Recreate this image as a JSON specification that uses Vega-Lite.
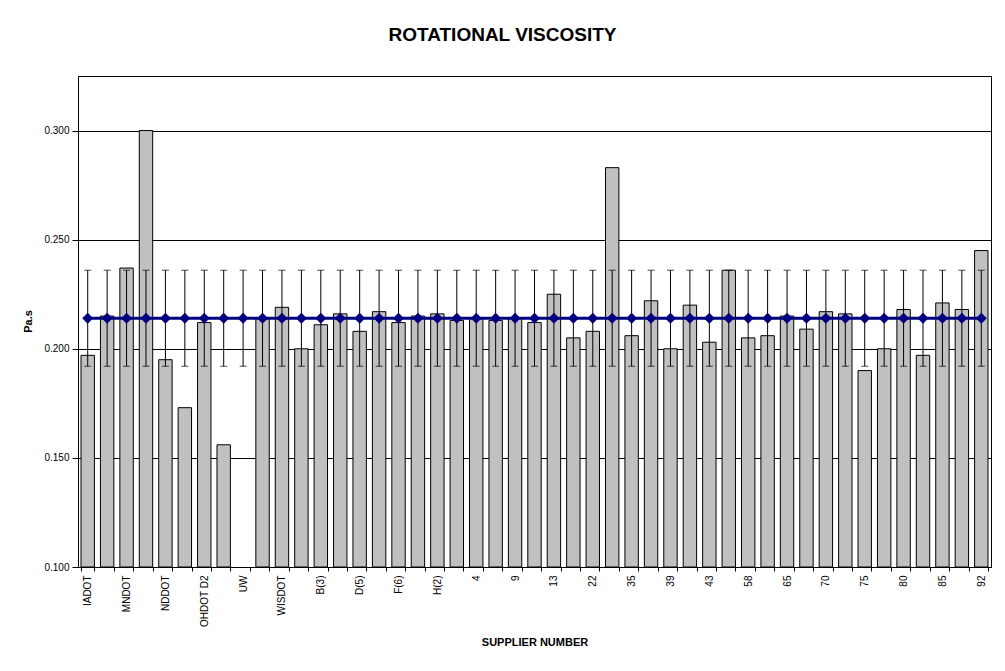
{
  "$schema": "https://vega.github.io/schema/vega-lite/v6.json",
  "width": 913,
  "height": 491,
  "autosize": {"type": "none"},
  "padding": {"left": 78, "top": 76, "right": 14, "bottom": 104},
  "background": "white",
  "title": {
    "text": "ROTATIONAL VISCOSITY",
    "font": "Liberation Sans",
    "fontSize": 19,
    "fontWeight": "bold",
    "color": "black",
    "anchor": "middle",
    "dx": -32,
    "baseline": "middle",
    "offset": 22
  },
  "config": {
    "view": {"stroke": "black", "strokeWidth": 1},
    "font": "Liberation Sans"
  },
  "data": {
    "values": [
      {"supplier": "IADOT", "rv": 0.197, "avg": 0.214, "lo": 0.192, "hi": 0.236},
      {"supplier": "KSDOT", "rv": 0.215, "avg": 0.214, "lo": 0.192, "hi": 0.236},
      {"supplier": "MNDOT", "rv": 0.237, "avg": 0.214, "lo": 0.192, "hi": 0.236},
      {"supplier": "MODOT", "rv": 0.300, "avg": 0.214, "lo": 0.192, "hi": 0.236},
      {"supplier": "NDDOT", "rv": 0.195, "avg": 0.214, "lo": 0.192, "hi": 0.236},
      {"supplier": "OHDOT D1", "rv": 0.173, "avg": 0.214, "lo": 0.192, "hi": 0.236},
      {"supplier": "OHDOT D2", "rv": 0.212, "avg": 0.214, "lo": 0.192, "hi": 0.236},
      {"supplier": "SDDOT", "rv": 0.156, "avg": 0.214, "lo": 0.192, "hi": 0.236},
      {"supplier": "UW", "rv": null, "avg": 0.214, "lo": 0.192, "hi": 0.236},
      {"supplier": "UWM", "rv": 0.214, "avg": 0.214, "lo": 0.192, "hi": 0.236},
      {"supplier": "WISDOT", "rv": 0.219, "avg": 0.214, "lo": 0.192, "hi": 0.236},
      {"supplier": "A(3)", "rv": 0.200, "avg": 0.214, "lo": 0.192, "hi": 0.236},
      {"supplier": "B(3)", "rv": 0.211, "avg": 0.214, "lo": 0.192, "hi": 0.236},
      {"supplier": "C(4)", "rv": 0.216, "avg": 0.214, "lo": 0.192, "hi": 0.236},
      {"supplier": "D(5)", "rv": 0.208, "avg": 0.214, "lo": 0.192, "hi": 0.236},
      {"supplier": "E(5)", "rv": 0.217, "avg": 0.214, "lo": 0.192, "hi": 0.236},
      {"supplier": "F(6)", "rv": 0.212, "avg": 0.214, "lo": 0.192, "hi": 0.236},
      {"supplier": "G(4)", "rv": 0.215, "avg": 0.214, "lo": 0.192, "hi": 0.236},
      {"supplier": "H(2)", "rv": 0.216, "avg": 0.214, "lo": 0.192, "hi": 0.236},
      {"supplier": "2", "rv": 0.213, "avg": 0.214, "lo": 0.192, "hi": 0.236},
      {"supplier": "4", "rv": 0.214, "avg": 0.214, "lo": 0.192, "hi": 0.236},
      {"supplier": "7", "rv": 0.213, "avg": 0.214, "lo": 0.192, "hi": 0.236},
      {"supplier": "9", "rv": 0.214, "avg": 0.214, "lo": 0.192, "hi": 0.236},
      {"supplier": "11", "rv": 0.212, "avg": 0.214, "lo": 0.192, "hi": 0.236},
      {"supplier": "13", "rv": 0.225, "avg": 0.214, "lo": 0.192, "hi": 0.236},
      {"supplier": "17", "rv": 0.205, "avg": 0.214, "lo": 0.192, "hi": 0.236},
      {"supplier": "22", "rv": 0.208, "avg": 0.214, "lo": 0.192, "hi": 0.236},
      {"supplier": "31", "rv": 0.283, "avg": 0.214, "lo": 0.192, "hi": 0.236},
      {"supplier": "35", "rv": 0.206, "avg": 0.214, "lo": 0.192, "hi": 0.236},
      {"supplier": "37", "rv": 0.222, "avg": 0.214, "lo": 0.192, "hi": 0.236},
      {"supplier": "39", "rv": 0.200, "avg": 0.214, "lo": 0.192, "hi": 0.236},
      {"supplier": "41", "rv": 0.220, "avg": 0.214, "lo": 0.192, "hi": 0.236},
      {"supplier": "43", "rv": 0.203, "avg": 0.214, "lo": 0.192, "hi": 0.236},
      {"supplier": "52", "rv": 0.236, "avg": 0.214, "lo": 0.192, "hi": 0.236},
      {"supplier": "58", "rv": 0.205, "avg": 0.214, "lo": 0.192, "hi": 0.236},
      {"supplier": "61", "rv": 0.206, "avg": 0.214, "lo": 0.192, "hi": 0.236},
      {"supplier": "65", "rv": 0.215, "avg": 0.214, "lo": 0.192, "hi": 0.236},
      {"supplier": "68", "rv": 0.209, "avg": 0.214, "lo": 0.192, "hi": 0.236},
      {"supplier": "70", "rv": 0.217, "avg": 0.214, "lo": 0.192, "hi": 0.236},
      {"supplier": "73", "rv": 0.216, "avg": 0.214, "lo": 0.192, "hi": 0.236},
      {"supplier": "75", "rv": 0.190, "avg": 0.214, "lo": 0.192, "hi": 0.236},
      {"supplier": "78", "rv": 0.200, "avg": 0.214, "lo": 0.192, "hi": 0.236},
      {"supplier": "80", "rv": 0.218, "avg": 0.214, "lo": 0.192, "hi": 0.236},
      {"supplier": "83", "rv": 0.197, "avg": 0.214, "lo": 0.192, "hi": 0.236},
      {"supplier": "85", "rv": 0.221, "avg": 0.214, "lo": 0.192, "hi": 0.236},
      {"supplier": "89", "rv": 0.218, "avg": 0.214, "lo": 0.192, "hi": 0.236},
      {"supplier": "92", "rv": 0.245, "avg": 0.214, "lo": 0.192, "hi": 0.236}
    ]
  },
  "encoding": {
    "x": {
      "field": "supplier",
      "type": "nominal",
      "sort": null,
      "scale": {
        "domain": ["IADOT","KSDOT","MNDOT","MODOT","NDDOT","OHDOT D1","OHDOT D2","SDDOT","UW","UWM","WISDOT","A(3)","B(3)","C(4)","D(5)","E(5)","F(6)","G(4)","H(2)","2","4","7","9","11","13","17","22","31","35","37","39","41","43","52","58","61","65","68","70","73","75","78","80","83","85","89","92"],
        "paddingInner": 0.31,
        "paddingOuter": 0.155
      },
      "axis": {
        "title": "SUPPLIER NUMBER",
        "titleFont": "Liberation Sans",
        "titleFontSize": 11,
        "titleFontWeight": "bold",
        "titleColor": "black",
        "titleY": 75,
        "titleBaseline": "middle",
        "labelAngle": -90,
        "labelFont": "Liberation Sans",
        "labelFontSize": 10,
        "labelColor": "black",
        "labelPadding": 4,
        "labelOverlap": false,
        "labelExpr": "indexof(['IADOT','MNDOT','NDDOT','OHDOT D2','UW','WISDOT','B(3)','D(5)','F(6)','H(2)','4','9','13','22','35','39','43','58','65','70','75','80','85','92'], datum.value) >= 0 ? datum.value : ''",
        "tickBand": "extent",
        "tickSize": 4,
        "tickColor": "black",
        "domainColor": "black",
        "grid": false
      }
    }
  },
  "layer": [
    {
      "mark": {"type": "bar", "fill": "#C0C0C0", "stroke": "black", "strokeWidth": 1},
      "encoding": {
        "y": {
          "field": "rv",
          "type": "quantitative",
          "title": "Pa.s",
          "scale": {"domain": [0.1, 0.325], "nice": false, "zero": false},
          "axis": {
            "title": "Pa.s",
            "titleFont": "Liberation Sans",
            "titleFontSize": 11,
            "titleFontWeight": "bold",
            "titleColor": "black",
            "titleX": -50,
            "titleY": 245,
            "titleBaseline": "middle",
            "titleAngle": -90,
            "values": [0.1, 0.15, 0.2, 0.25, 0.3],
            "format": ".3f",
            "labelFont": "Liberation Sans",
            "labelFontSize": 10,
            "labelColor": "black",
            "labelPadding": 3,
            "tickSize": 6,
            "tickColor": "black",
            "domainColor": "black",
            "grid": true,
            "gridColor": "black",
            "gridOpacity": 1,
            "gridWidth": 1
          }
        },
        "y2": {"datum": 0.1}
      }
    },
    {
      "mark": {"type": "rule", "color": "black", "strokeWidth": 1},
      "encoding": {
        "y": {"field": "lo", "type": "quantitative", "title": "Pa.s"},
        "y2": {"field": "hi"}
      }
    },
    {
      "mark": {"type": "tick", "color": "black", "size": 7, "thickness": 1, "orient": "horizontal"},
      "encoding": {
        "y": {"field": "lo", "type": "quantitative", "title": "Pa.s"}
      }
    },
    {
      "mark": {"type": "tick", "color": "black", "size": 7, "thickness": 1, "orient": "horizontal"},
      "encoding": {
        "y": {"field": "hi", "type": "quantitative", "title": "Pa.s"}
      }
    },
    {
      "mark": {"type": "line", "color": "#000080", "strokeWidth": 3},
      "encoding": {
        "y": {"field": "avg", "type": "quantitative", "title": "Pa.s"}
      }
    },
    {
      "mark": {"type": "point", "shape": "diamond", "filled": true, "color": "#000080", "size": 121, "opacity": 1},
      "encoding": {
        "y": {"field": "avg", "type": "quantitative", "title": "Pa.s"}
      }
    }
  ]
}
